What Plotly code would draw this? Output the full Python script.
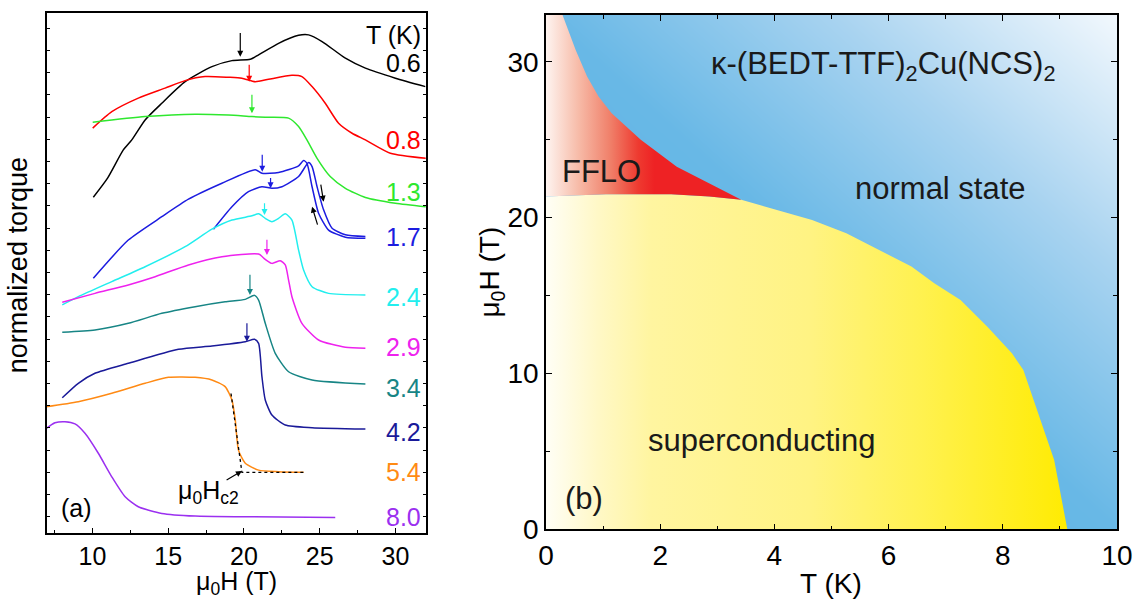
import plotly.graph_objects as go

FONT = "Liberation Sans, Arial, sans-serif"

# ---------------- Panel (a): normalized torque vs mu0H ----------------
H_06 = [10.06, 11.0, 12.04, 12.60, 13.48, 14.58, 16.12, 17.89, 19.21, 20.42, 20.97, 22.29, 23.61, 24.27, 25.16, 26.70, 28.02, 30.0, 31.98]
tq_06 = [14.39, 15.25, 16.52, 16.97, 17.87, 18.62, 19.59, 20.27, 20.54, 20.60, 20.80, 21.32, 21.68, 21.70, 21.40, 20.65, 20.20, 19.75, 19.37]

H_08 = [10.02, 11.28, 13.03, 14.80, 16.12, 17.44, 18.98, 19.87, 20.75, 21.63, 23.17, 23.83, 24.50, 25.37, 26.25, 27.14, 28.02, 29.67, 32.03]
tq_08 = [17.50, 18.24, 18.85, 19.30, 19.64, 19.82, 19.79, 19.75, 19.59, 19.70, 19.88, 19.82, 19.37, 18.62, 17.72, 17.27, 16.97, 16.37, 16.14]

H_13 = [10.02, 13.48, 16.78, 18.98, 20.53, 21.41, 22.95, 23.61, 24.16, 24.83, 25.70, 26.70, 28.02, 30.0, 32.03]
tq_13 = [17.77, 18.02, 18.13, 18.09, 18.02, 17.99, 17.95, 17.57, 16.97, 16.14, 15.32, 14.79, 14.38, 14.12, 13.96]

H_17a = [10.06, 12.37, 14.58, 16.34, 18.55, 20.75, 21.19, 22.29, 23.61, 23.94, 24.16, 24.50, 24.93, 25.59, 26.70, 28.02]
tq_17a = [10.74, 12.46, 13.51, 14.30, 15.02, 15.63, 15.47, 15.50, 15.80, 16.04, 15.92, 14.86, 13.67, 12.91, 12.59, 12.54]

H_17b = [17.99, 19.21, 20.30, 21.19, 21.85, 22.51, 23.61, 24.27, 24.50, 24.83, 25.26, 25.82, 26.70, 28.02]
tq_17b = [12.95, 13.96, 14.64, 14.86, 14.79, 14.86, 15.32, 15.95, 15.77, 14.86, 13.82, 12.99, 12.70, 12.62]

H_24 = [8.01, 9.07, 11.28, 13.48, 16.12, 17.89, 19.21, 20.53, 20.97, 21.41, 21.85, 22.29, 22.73, 23.17, 23.61, 23.94, 24.50, 25.59, 28.02]
tq_24 = [9.54, 9.91, 10.59, 11.26, 12.16, 12.95, 13.36, 13.55, 13.64, 13.44, 13.29, 13.44, 13.64, 13.36, 12.01, 11.11, 10.36, 10.06, 9.99]

H_29 = [8.01, 10.17, 12.37, 14.14, 16.34, 18.55, 20.97, 21.41, 21.85, 22.40, 22.73, 22.95, 23.17, 23.83, 24.93, 26.70, 28.02]
tq_29 = [9.66, 10.06, 10.44, 10.81, 11.34, 11.71, 11.83, 11.59, 11.41, 11.53, 11.34, 10.66, 9.91, 8.71, 7.96, 7.63, 7.59]

H_34 = [8.01, 10.17, 12.37, 14.58, 16.78, 18.76, 20.09, 20.70, 20.97, 21.41, 22.07, 22.95, 24.50, 28.02]
tq_34 = [8.31, 8.41, 8.71, 9.16, 9.46, 9.68, 9.79, 9.97, 9.76, 8.71, 7.36, 6.53, 6.16, 5.98]

H_42 = [8.01, 9.07, 10.17, 12.37, 15.68, 17.89, 20.09, 20.70, 20.97, 21.19, 21.41, 21.85, 22.73, 24.50, 28.02]
tq_42 = [5.36, 6.01, 6.46, 6.91, 7.54, 7.69, 7.88, 7.99, 7.81, 6.31, 5.26, 4.58, 4.13, 4.01, 3.95]

H_54 = [6.9, 9.07, 11.28, 13.48, 15.02, 16.78, 17.89, 18.76, 19.21, 19.43, 19.64, 20.09, 20.97, 22.29, 23.94]
tq_54 = [4.95, 5.18, 5.56, 6.01, 6.28, 6.28, 6.16, 5.86, 5.26, 4.36, 3.00, 2.41, 2.10, 2.03, 2.00]

H_80 = [6.9, 7.53, 8.19, 8.85, 9.51, 10.39, 11.28, 12.16, 13.03, 14.58, 16.78, 20.09, 26.03]
tq_80 = [3.95, 4.23, 4.28, 4.18, 3.76, 2.86, 1.80, 0.90, 0.45, 0.15, 0.03, 0.0, -0.03]

# Hc2 construction (dotted) for 5.4 K
hc2_H = [19.15, 19.87, 23.94]
hc2_tq = [5.55, 2.0, 2.0]

temp_labels = ["0.6", "0.8", "1.3", "1.7", "2.4", "2.9", "3.4", "4.2", "5.4", "8.0"]

# ---------------- Panel (b): phase diagram ----------------
hc2_T = [0.29, 0.52, 0.72, 0.92, 1.15, 1.66, 2.29, 3.42, 4.66, 5.26, 6.40, 6.80, 7.26, 7.73, 8.16, 8.36, 8.90, 9.13]
hc2_B = [33.0, 30.76, 29.05, 27.77, 26.70, 24.99, 23.27, 21.14, 19.85, 19.0, 16.86, 15.79, 14.72, 13.0, 11.30, 10.22, 4.45, 0.0]
fflo_T = [0.0, 1.05, 2.19, 2.86, 3.42]
fflo_B = [21.35, 21.5, 21.5, 21.35, 21.14]

# ---------------- styles ----------------
curve_colors = ["#000000", "#ff0000", "#2ee82e", "#1c1ce0", "#1c1ce0", "#22eeee",
                "#ee22ee", "#178585", "#1a1a99", "#ff8a14", "#9b30f0"]
label_colors = ["#000000", "#ff0000", "#2ee82e", "#1c1ce0", "#22eeee",
                "#ee22ee", "#178585", "#1a1a99", "#ff8a14", "#9b30f0"]

fig = go.Figure()

# Background gradient of panel (b) (normal state)
fig.add_trace(go.Heatmap(
    x=[0, 10], y=[0, 33], z=[[0, 1], [1, 2]], zsmooth="best",
    colorscale=[[0, "#55b0e3"], [0.5, "#68b8e6"], [0.75, "#a8d3f0"], [1, "#f2f8fd"]],
    showscale=False, hoverinfo="skip", xaxis="x2", yaxis="y2"))

# Superconducting region
k = hc2_T.index(3.42)
sc_T = [0.0] + fflo_T + hc2_T[k + 1:] + [0.0]
sc_B = [0.0] + fflo_B + hc2_B[k + 1:] + [0.0]
fig.add_trace(go.Scatter(
    x=sc_T, y=sc_B, mode="lines", fill="toself", line=dict(width=0),
    fillgradient=dict(type="horizontal", start=0, stop=9.2,
                      colorscale=[[0, "#fffef6"], [0.1, "#fff8c6"], [0.2, "#fff5a0"],
                                  [0.5, "#fff383"], [0.72, "#fff14e"], [1, "#ffeb00"]]),
    hoverinfo="skip", showlegend=False, xaxis="x2", yaxis="y2"))

# FFLO region
ff_T = [0.0, 0.0] + hc2_T[:k + 1] + fflo_T[::-1]
ff_B = [fflo_B[0], 33.0] + hc2_B[:k + 1] + fflo_B[::-1]
fig.add_trace(go.Scatter(
    x=ff_T, y=ff_B, mode="lines", fill="toself", line=dict(width=0),
    fillgradient=dict(type="horizontal", start=0, stop=1.9,
                      colorscale=[[0, "#fef4f0"], [0.3, "#f7bba8"], [0.6, "#f07e68"],
                                  [0.85, "#ee3a30"], [1, "#ee2224"]]),
    hoverinfo="skip", showlegend=False, xaxis="x2", yaxis="y2"))

# Panel (a) curves
curves = [(H_06, tq_06), (H_08, tq_08), (H_13, tq_13), (H_17a, tq_17a), (H_17b, tq_17b),
          (H_24, tq_24), (H_29, tq_29), (H_34, tq_34), (H_42, tq_42), (H_54, tq_54), (H_80, tq_80)]
for (hx, ty), c in zip(curves, curve_colors):
    fig.add_trace(go.Scatter(x=hx, y=ty, mode="lines",
                             line=dict(color=c, width=1.5, shape="spline", smoothing=0.6),
                             showlegend=False, hoverinfo="skip", xaxis="x", yaxis="y"))

fig.add_trace(go.Scatter(x=hc2_H, y=hc2_tq, mode="lines",
                         line=dict(color="black", width=1.3, dash="dot"),
                         showlegend=False, hoverinfo="skip", xaxis="x", yaxis="y"))

ann = []


def txt(x, y, text, size, color="black", xref="x", yref="y", xanchor="center", angle=0):
    return dict(x=x, y=y, xref=xref, yref=yref, text=text, showarrow=False,
                xanchor=xanchor, yanchor="middle", textangle=angle,
                font=dict(size=size, color=color, family=FONT))


# temperature labels
label_pos = [20.42, 16.97, 14.64, 12.61, 9.91, 7.66, 5.78, 3.83, 2.03, 0.0]
ann.append(txt(31.85, 21.70, "T (K)", 25, xanchor="right"))
for t, yy, c in zip(temp_labels, label_pos, label_colors):
    ann.append(txt(31.85, yy, t, 25, color=c, xanchor="right"))

# small marker arrows (head, tail)
arrows = [(19.76, 20.72, 19.76, 21.85, "#000000"),
          (20.35, 19.59, 20.35, 20.42, "#ff0000"),
          (20.53, 18.17, 20.53, 19.07, "#2ee82e"),
          (21.21, 15.54, 21.21, 16.37, "#1c1ce0"),
          (21.76, 14.79, 21.76, 15.32, "#1c1ce0"),
          (21.36, 13.59, 21.36, 14.19, "#22eeee"),
          (21.52, 11.79, 21.52, 12.54, "#ee22ee"),
          (20.40, 9.99, 20.40, 10.96, "#178585"),
          (20.20, 7.88, 20.20, 8.78, "#1a1a99"),
          (25.26, 14.19, 25.06, 15.02, "#000000"),
          (24.50, 13.96, 24.89, 13.09, "#000000"),
          (19.87, 2.06, 18.76, 1.62, "#000000")]
for hx, hy, tx, tyy, c in arrows:
    ann.append(dict(x=hx, y=hy, ax=tx, ay=tyy, xref="x", yref="y", axref="x", ayref="y",
                    text="", showarrow=True, arrowhead=2, arrowsize=1, arrowwidth=1.2,
                    arrowcolor=c, standoff=0, startstandoff=0))

ann.append(txt(17.66, 1.13, "μ<sub>0</sub>H<sub>c2</sub>", 25))
ann.append(txt(8.96, 0.38, "(a)", 25))

# Panel (b) texts
for t, xx, yy in [("κ-(BEDT-TTF)<sub>2</sub>Cu(NCS)<sub>2</sub>", 5.9, 29.7),
                  ("FFLO", 0.97, 22.95),
                  ("normal state", 6.91, 21.9),
                  ("superconducting", 3.79, 5.73),
                  ("(b)", 0.67, 1.99)]:
    ann.append(txt(xx, yy, t, 31, color="#1a1a1a", xref="x2", yref="y2"))

# axis titles
ann.append(txt(0.208, 0.0283, "μ<sub>0</sub>H (T)", 25, xref="paper", yref="paper"))
ann.append(txt(0.0158, 0.558, "normalized torque", 27, xref="paper", yref="paper", angle=-90))
ann.append(txt(0.7313, 0.0283, "T (K)", 28, xref="paper", yref="paper"))
ann.append(txt(0.4325, 0.547, "μ<sub>0</sub>H (T)", 28, xref="paper", yref="paper", angle=-90))

axis_common = dict(showline=True, linecolor="black", linewidth=1.5, showgrid=False,
                   zeroline=False, ticks="inside", tickcolor="black", tickwidth=1.3,
                   automargin=False)

fig.update_layout(
    width=1137, height=600, margin=dict(l=0, r=0, t=0, b=0, autoexpand=False),
    paper_bgcolor="white", plot_bgcolor="white", showlegend=False,
    font=dict(family=FONT, color="black"),
    xaxis=dict(domain=[0.0413, 0.3744], anchor="y", range=[7, 32], mirror=True,
               tickmode="array", tickvals=[10, 15, 20, 25, 30], ticklen=5,
               minor=dict(tickvals=[7.5, 12.5, 17.5, 22.5, 27.5], ticklen=3, ticks="inside",
                          tickcolor="black"),
               tickfont=dict(size=25, family=FONT), **axis_common),
    yaxis=dict(domain=[0.1117, 0.9778], anchor="x", range=[-0.73, 22.67], mirror="ticks",
               tick0=0, dtick=1, ticklen=3, showticklabels=False, **axis_common),
    xaxis2=dict(domain=[0.4802, 0.9824], anchor="y2", range=[0, 10], mirror="ticks",
                tick0=0, dtick=2, ticklen=6,
                minor=dict(dtick=1, ticklen=4, ticks="inside", tickcolor="black"),
                tickfont=dict(size=28, family=FONT), **axis_common),
    yaxis2=dict(domain=[0.1178, 0.975], anchor="x2", range=[0, 33], mirror="ticks",
                tick0=0, dtick=10, ticklen=6,
                minor=dict(dtick=5, ticklen=4, ticks="inside", tickcolor="black"),
                tickfont=dict(size=28, family=FONT), **axis_common),
    annotations=ann,
)

fig.write_html("out.html")
